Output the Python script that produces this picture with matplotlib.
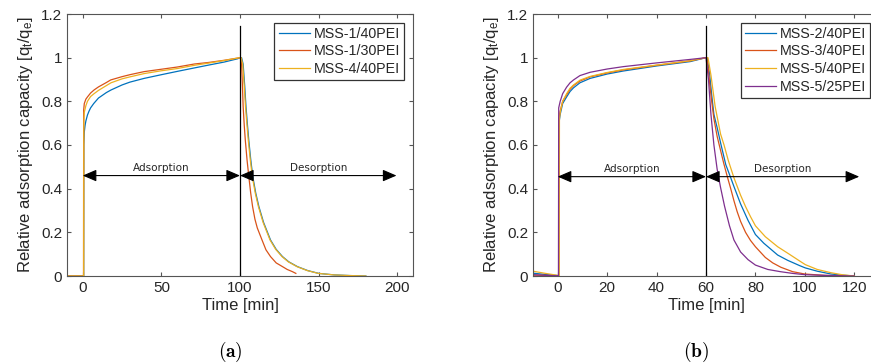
import matplotlib
matplotlib.use("Agg")
import matplotlib.pyplot as plt

plt.rcParams["font.family"] = ["Liberation Sans", "DejaVu Sans"]
plt.rcParams["mathtext.default"] = "regular"

# ---------------------------------------------------------------------------
# (a) 100 min adsorption / 100 min desorption
# ---------------------------------------------------------------------------
a_labels = ["MSS-1/40PEI", "MSS-1/30PEI", "MSS-4/40PEI"]

a_t_mss1_40 = [-10, 0.6, 0.7, 1, 1.5, 2, 3, 4, 5, 7, 10, 15, 18, 25, 30, 39, 50, 60, 71, 80,
               90, 98.5, 100, 101, 102, 103, 103.8, 104.7, 105.6, 106.8, 108.1, 110, 112, 115,
               119.4, 123, 127, 131, 136.5, 143, 150, 160, 170, 180]
a_q_mss1_40 = [0, 0, 0.6, 0.66, 0.69, 0.71, 0.737, 0.755, 0.77, 0.79, 0.815, 0.84, 0.852,
               0.875, 0.888, 0.905, 0.922, 0.937, 0.953, 0.966, 0.98, 0.995, 1.0, 1.0, 0.97,
               0.87, 0.776, 0.695, 0.62, 0.535, 0.456, 0.38, 0.318, 0.245, 0.165, 0.122,
               0.089, 0.065, 0.043, 0.025, 0.012, 0.005, 0.002, 0]

a_t_mss1_30 = [-10, 0.5, 0.6, 1, 2, 3, 5, 7.2, 10, 15, 17.8, 25, 30, 39, 50, 60, 71, 80, 90,
               100, 100.5, 101, 101.5, 102, 102.7, 103.4, 104.5, 105.6, 106.8, 108, 109.5,
               111, 114, 116.5, 119.4, 123, 127, 130, 133.3, 135.5]
a_q_mss1_30 = [0, 0, 0.76, 0.79, 0.81, 0.82, 0.838, 0.852, 0.866, 0.886, 0.898, 0.913, 0.922,
               0.936, 0.947, 0.957, 0.971, 0.978, 0.988, 1.0, 1.0, 0.97, 0.88, 0.776, 0.69,
               0.62, 0.53, 0.456, 0.38, 0.318, 0.26, 0.22, 0.165, 0.12, 0.089, 0.06, 0.043,
               0.03, 0.02, 0.012]

a_t_mss4_40 = [-10, 0.6, 0.7, 1, 2, 3, 5, 7, 10, 15, 18, 25, 30, 39, 50, 60, 71, 80, 90,
               100, 100.7, 101.7, 102.7, 103.5, 104.4, 105.3, 106.5, 107.8, 109.7, 111.7,
               114.7, 119.1, 122.7, 126.7, 130.7, 136.2, 142.7, 149.7, 159.7, 169.7, 180]
a_q_mss4_40 = [0, 0, 0.7, 0.75, 0.78, 0.8, 0.822, 0.834, 0.85, 0.872, 0.885, 0.903, 0.912,
               0.927, 0.94, 0.95, 0.965, 0.975, 0.987, 1.0, 1.0, 0.97, 0.87, 0.776, 0.695,
               0.62, 0.535, 0.456, 0.38, 0.318, 0.245, 0.165, 0.122, 0.089, 0.065, 0.043,
               0.025, 0.012, 0.005, 0.002, 0]

# ---------------------------------------------------------------------------
# (b) 60 min adsorption / 60 min desorption
# ---------------------------------------------------------------------------
b_labels = ["MSS-2/40PEI", "MSS-3/40PEI", "MSS-5/40PEI", "MSS-5/25PEI"]

b_t_mss2_40 = [-10, -5, 0, 0.4, 0.5, 1, 2, 3.6, 5, 6.4, 9, 13.1, 20, 26.6, 40, 53.6, 60,
               60.5, 61.5, 62.3, 63.2, 64.5, 66, 68, 70, 71.3, 74, 77, 80, 83.4, 86, 89, 93,
               98, 100.2, 105, 110.6, 115, 120]
b_q_mss2_40 = [0.013, 0.007, 0.002, 0.002, 0.7, 0.74, 0.79, 0.82, 0.845, 0.862, 0.885, 0.905,
               0.925, 0.939, 0.962, 0.982, 1.0, 1.0, 0.92, 0.83, 0.74, 0.68, 0.605, 0.51,
               0.45, 0.41, 0.33, 0.255, 0.19, 0.15, 0.125, 0.096, 0.072, 0.047, 0.037, 0.022,
               0.009, 0.004, 0]

b_t_mss3_40 = [-10, 0, 0.4, 0.5, 1, 2, 3.6, 5, 6.4, 9, 13.1, 20, 26.6, 40, 53.6, 60, 60.3,
               61, 61.5, 62.3, 63.2, 64.5, 65.9, 67.2, 68.6, 70, 71.3, 72.6, 74, 76, 78, 80,
               84, 87, 90.3, 95, 100, 108, 120]
b_q_mss3_40 = [0.004, 0.001, 0, 0.72, 0.755, 0.8, 0.83, 0.855, 0.872, 0.893, 0.912, 0.93,
               0.944, 0.965, 0.985, 1.0, 1.0, 0.94, 0.88, 0.8, 0.72, 0.64, 0.575, 0.515,
               0.456, 0.4, 0.345, 0.295, 0.25, 0.2, 0.163, 0.134, 0.085, 0.06, 0.04, 0.02,
               0.009, 0.003, 0]

b_t_mss5_40 = [-10, -5, 0, 0.6, 0.7, 1, 2, 3.6, 5, 6.4, 9, 13.1, 20, 26.6, 40, 53.6, 60,
               60.8, 62, 63.7, 65.9, 67.3, 69, 71.3, 74, 76, 78, 80, 84, 89, 93, 98, 100.2,
               105, 110.6, 115, 120]
b_q_mss5_40 = [0.022, 0.012, 0.003, 0.003, 0.72, 0.75, 0.8, 0.835, 0.86, 0.875, 0.897, 0.914,
               0.932, 0.946, 0.966, 0.986, 1.0, 1.0, 0.92, 0.776, 0.65, 0.6, 0.53, 0.45,
               0.37, 0.318, 0.272, 0.23, 0.18, 0.134, 0.105, 0.068, 0.052, 0.03, 0.015,
               0.006, 0]

b_t_mss5_25 = [-10, 0, 0.3, 0.4, 1, 2, 3.6, 5, 6.4, 9, 13.1, 20, 26.6, 40, 53.6, 60, 61, 62,
               63.2, 64.5, 65.9, 67.5, 69.5, 71.3, 74, 77, 80, 85, 90, 95, 100, 110, 120]
b_q_mss5_25 = [0.006, 0.001, 0, 0.77, 0.8, 0.835, 0.865, 0.885, 0.898, 0.918, 0.933, 0.948,
               0.959, 0.976, 0.992, 1.0, 0.9, 0.74, 0.6, 0.49, 0.405, 0.32, 0.23, 0.165, 0.11,
               0.075, 0.05, 0.03, 0.02, 0.012, 0.006, 0.002, 0]

colors = ["#0072BD", "#D95319", "#EDB120", "#7E2F8E"]
spine_col = "#555555"
text_col = "#262626"

plt.rcParams["mathtext.fontset"] = "cm"

fig = plt.figure(figsize=(8.71, 3.63), dpi=100)
ax_a = fig.add_axes([67 / 871, 87 / 363, 346 / 871, 262 / 363])
ax_b = fig.add_axes([533 / 871, 87 / 363, 346 / 871, 262 / 363])

series_a = [(a_t_mss1_40, a_q_mss1_40), (a_t_mss1_30, a_q_mss1_30), (a_t_mss4_40, a_q_mss4_40)]
series_b = [(b_t_mss2_40, b_q_mss2_40), (b_t_mss3_40, b_q_mss3_40),
            (b_t_mss5_40, b_q_mss5_40), (b_t_mss5_25, b_q_mss5_25)]


def style_axes(ax, xlim, xticks, switch_t, arrow_y, arrow_end, labels, series):
    for (t, q), lab, c in zip(series, labels, colors):
        ax.plot(t, q, color=c, lw=0.9, label=lab)
    ax.plot([switch_t, switch_t], [0, 1.145], color="k", lw=0.9)

    # adsorption / desorption arrows
    for x0, x1 in [(0, switch_t), (switch_t, arrow_end)]:
        ax.annotate("", xy=(x1, arrow_y), xytext=(x0, arrow_y),
                    arrowprops=dict(arrowstyle="<|-|>,head_length=0.7,head_width=0.3",
                                    color="k", lw=0.8, mutation_scale=12,
                                    shrinkA=0, shrinkB=0))
    ax.text(switch_t / 2, arrow_y + 0.012, "Adsorption", fontsize=7.5,
            ha="center", va="bottom", color=text_col, family="DejaVu Sans")
    ax.text((switch_t + arrow_end) / 2, arrow_y + 0.012, "Desorption", fontsize=7.5,
            ha="center", va="bottom", color=text_col, family="DejaVu Sans")

    ax.set_xlim(*xlim)
    ax.set_ylim(0, 1.2)
    ax.set_xticks(xticks)
    ax.set_yticks([0, 0.2, 0.4, 0.6, 0.8, 1.0, 1.2])
    ax.set_yticklabels(["0", "0.2", "0.4", "0.6", "0.8", "1", "1.2"])
    ax.tick_params(direction="in", top=True, right=True, length=3, width=0.8,
                   color=spine_col, labelcolor=text_col, labelsize=11)
    for sp in ax.spines.values():
        sp.set_color(spine_col)
        sp.set_linewidth(0.8)
    ax.set_xlabel("Time [min]", fontsize=12, color=text_col, labelpad=2)
    ax.set_ylabel("Relative adsorption capacity [q$_t$/q$_e$]", fontsize=12,
                  color=text_col, labelpad=4)

    leg = ax.legend(loc="upper right", fontsize=10.3, handlelength=2.2,
                    handletextpad=0.25, labelspacing=0.25, borderpad=0.3,
                    borderaxespad=0.6, fancybox=False, framealpha=1)
    leg.get_frame().set_edgecolor("#333333")
    leg.get_frame().set_linewidth(0.9)
    for txt in leg.get_texts():
        txt.set_color(text_col)


style_axes(ax_a, (-10, 210), [0, 50, 100, 150, 200], 100, 0.46, 199.5, a_labels, series_a)
style_axes(ax_b, (-10, 130), [0, 20, 40, 60, 80, 100, 120], 60, 0.455, 122, b_labels, series_b)

fig.text(230 / 871, 11 / 363, r"$\mathbf{(a)}$", ha="center", va="center", fontsize=14)
fig.text(696 / 871, 11 / 363, r"$\mathbf{(b)}$", ha="center", va="center", fontsize=14)

fig.savefig("out.png", dpi=100)
